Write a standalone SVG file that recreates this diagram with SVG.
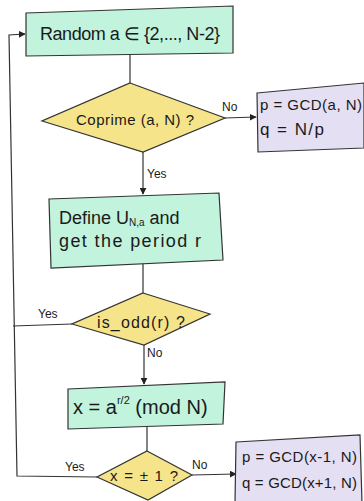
<svg xmlns="http://www.w3.org/2000/svg" width="364" height="501" viewBox="0 0 364 501">
<defs>
<style>
.g{fill:#c1f3dd;stroke:#333;stroke-width:1.2}
.y{fill:#f6e48a;stroke:#333;stroke-width:1.2}
.p{fill:#e4dff2;stroke:#333;stroke-width:1.2}
.t{font-family:"Liberation Sans",Arial,sans-serif;fill:#1a1a1a}
.s{font-family:"Liberation Sans",Arial,sans-serif;fill:#1a1a1a;font-size:12px}
.c{fill:none;stroke:#333;stroke-width:1.2}
</style>
<marker id="a" viewBox="0 0 10 10" refX="9" refY="5" markerWidth="7" markerHeight="7" orient="auto" markerUnits="userSpaceOnUse">
<path d="M0,0 L10,5 L0,10 z" fill="#222"/>
</marker>
</defs>
<rect width="364" height="501" fill="#fff"/>
<g id="connectors">
<path class="c" d="M130,54 L130,83"/>
<path class="c" d="M225,118 L256,117" marker-end="url(#a)"/>
<path class="c" d="M143,152 L143,194" marker-end="url(#a)"/>
<path class="c" d="M143,263 L143,293"/>
<path class="c" d="M72,324 L13,326"/>
<path class="c" d="M97,477 L17,476 L9,35 L25,34" marker-end="url(#a)"/>
<path class="c" d="M144,345 L144,384" marker-end="url(#a)"/>
<path class="c" d="M147,426 L147,451"/>
<path class="c" d="M192,475 L236,474" marker-end="url(#a)"/>
<text class="s" x="222" y="111">No</text>
<text class="s" x="147" y="178">Yes</text>
<text class="s" x="38" y="318">Yes</text>
<text class="s" x="147" y="357">No</text>
<text class="s" x="65" y="471">Yes</text>
<text class="s" x="192" y="469">No</text>
</g>
<g id="random">
<polygon class="g" points="26,13 233,6 233,53 26,56"/>
<text class="t" x="130" y="40" font-size="18" text-anchor="middle" textLength="180">Random a ∈ {2,..., N-2}</text>
</g>
<g id="coprime">
<polygon class="y" points="130,83 225,118 143,152 42,121"/>
<text class="t" x="135" y="125" font-size="15" text-anchor="middle" textLength="118">Coprime (a, N) ?</text>
</g>
<g id="gcd1">
<polygon class="p" points="257,93 364,83 364,148 258,152"/>
<text class="t" x="260" y="110" font-size="15" textLength="102">p = GCD(a, N)</text>
<text class="t" x="260" y="135" font-size="17" textLength="64">q = N/p</text>
</g>
<g id="define">
<polygon class="g" points="49,199 219,193 223,260 51,268"/>
<text class="t" x="59" y="224" font-size="18">Define U<tspan font-size="10" dy="2">N,a</tspan><tspan dy="-2"> and</tspan></text>
<text class="t" x="59" y="247" font-size="18" textLength="142">get the period r</text>
</g>
<g id="isodd">
<polygon class="y" points="143,293 210,314 144,345 72,324"/>
<text class="t" x="141" y="328" font-size="16" text-anchor="middle" textLength="88">is_odd(r) ?</text>
</g>
<g id="xmod">
<polygon class="g" points="68,389 225,382 223,424 68,429"/>
<text class="t" x="73" y="414" font-size="20">x = a<tspan font-size="11" dy="-10">r/2</tspan><tspan dy="10"> (mod N)</tspan></text>
</g>
<g id="pm1">
<polygon class="y" points="147,451 192,475 148,500 97,477"/>
<text class="t" x="144" y="481" font-size="15" text-anchor="middle" textLength="68">x = ± 1 ?</text>
</g>
<g id="gcd2">
<polygon class="p" points="236,442 360,435 362,503 235,503"/>
<text class="t" x="242" y="462" font-size="15" textLength="115">p = GCD(x-1, N)</text>
<text class="t" x="242" y="488" font-size="15" textLength="115">q = GCD(x+1, N)</text>
</g>
</svg>
